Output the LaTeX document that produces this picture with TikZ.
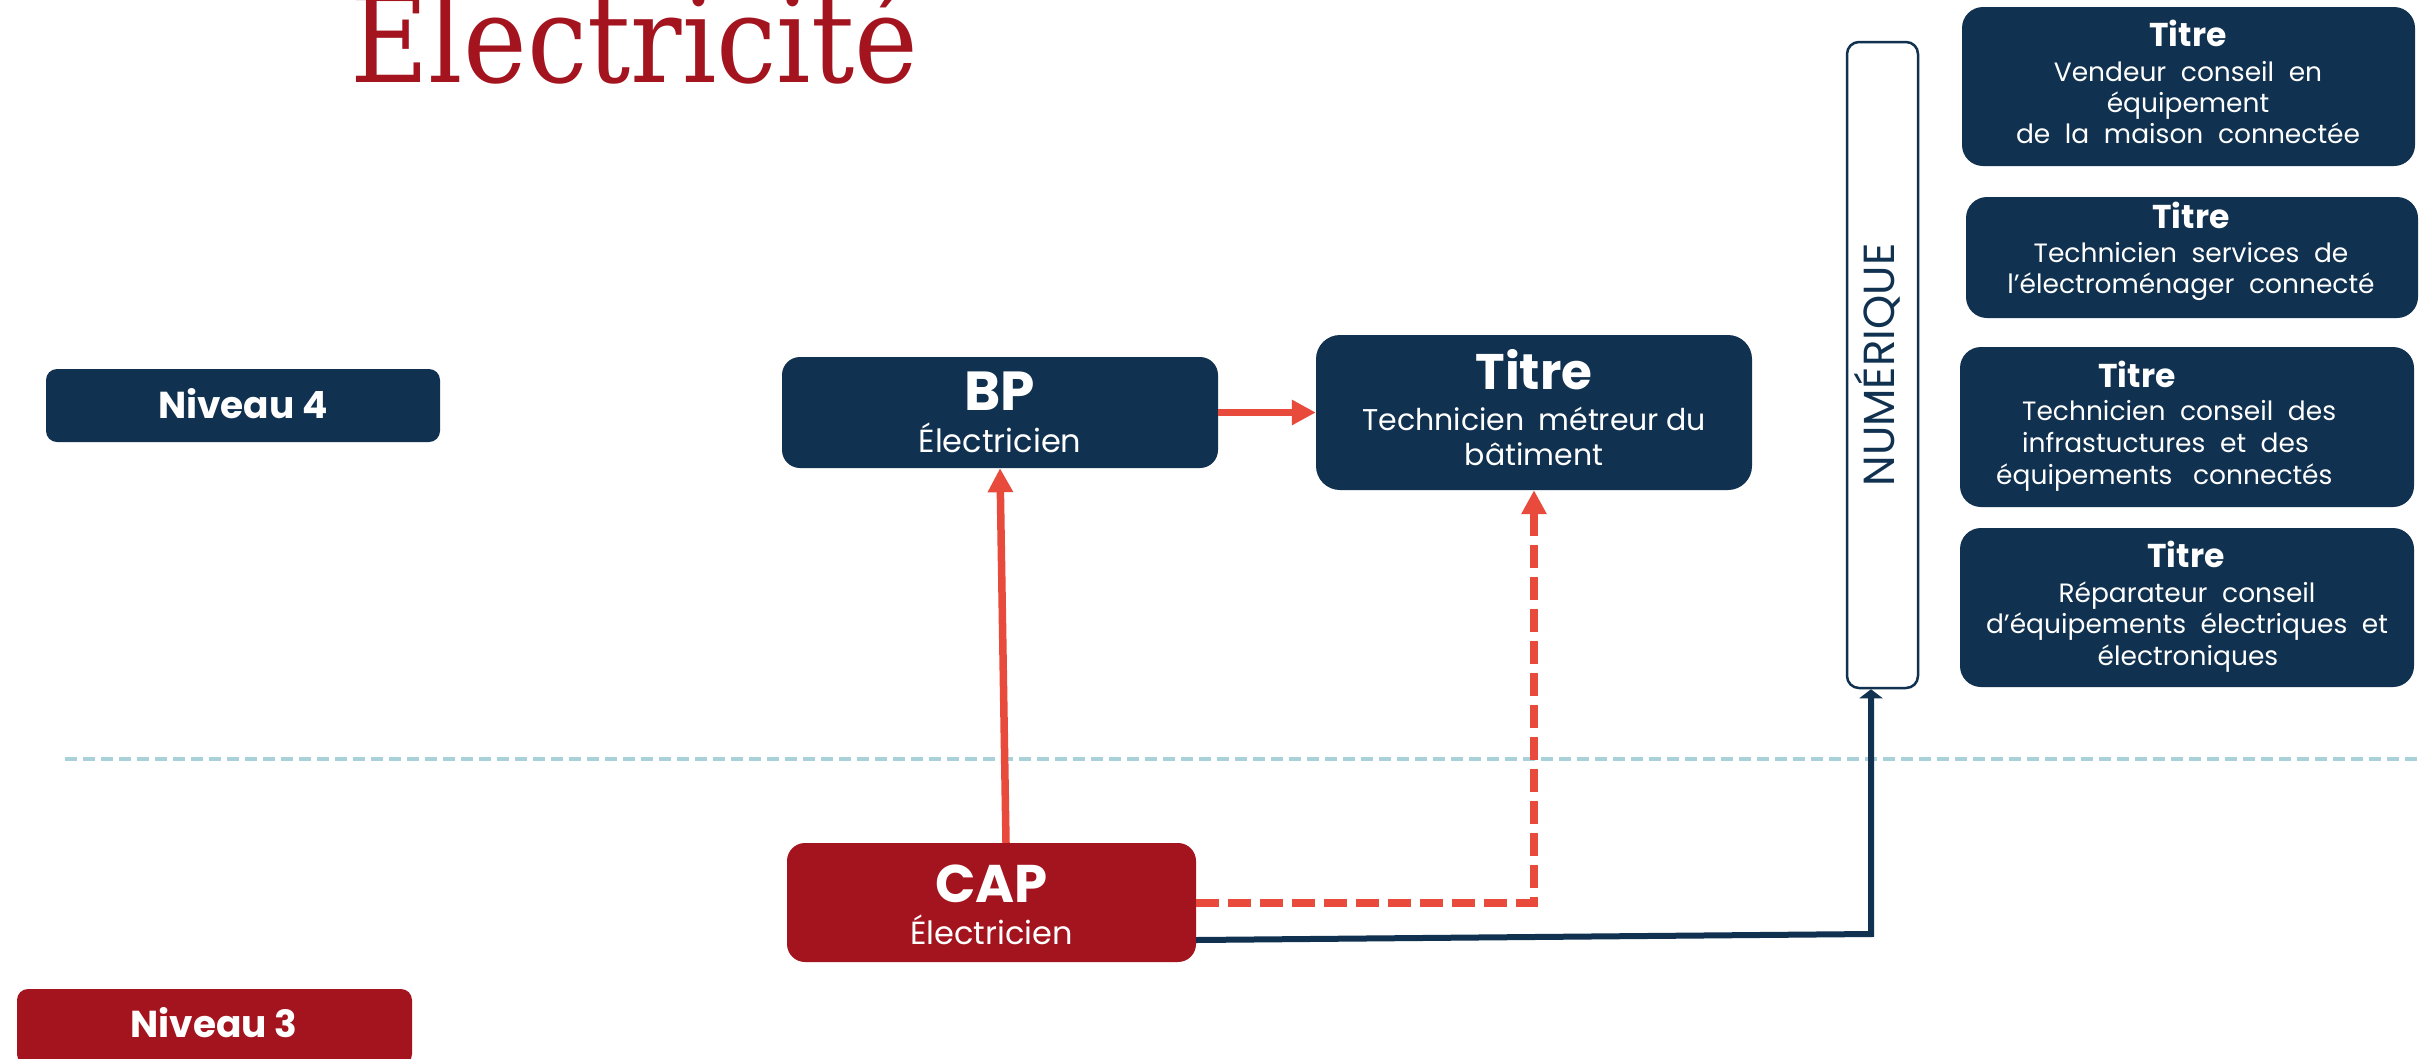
\documentclass[tikz,border=0pt]{standalone}
\usepackage{fontspec}
\setmainfont{Poppins}
\newfontfamily\titlefont[FakeStretch=0.89]{DejaVu Serif}
\usetikzlibrary{arrows.meta}
\definecolor{navy}{HTML}{10314F}
\definecolor{darkred}{HTML}{A3141F}
\definecolor{arrowred}{HTML}{E84B3C}
\definecolor{sepblue}{HTML}{A8D1D9}
\newcommand\widesp{\spaceskip=0.55em plus 0pt minus 0pt\relax}
\begin{document}
\begin{tikzpicture}[x=1pt,y=-1pt,
  box/.style={rectangle, inner sep=0pt, draw=none},
  navybox/.style={box, fill=navy},
  redbox/.style={box, fill=darkred},
  lbl/.style={anchor=base, text=white, inner sep=0pt},
  midr/.style={lbl, font=\fontsize{32}{38}\selectfont},
  smallb/.style={lbl, font=\fontsize{33}{40}\selectfont\bfseries},
  smallr/.style={lbl, font=\fontsize{26.5}{32}\selectfont\widesp},
  nivb/.style={lbl, font=\fontsize{37.5}{45}\selectfont\bfseries},
  redarrow/.style={draw=arrowred, line width=7.5pt, -{Triangle[length=24pt,width=24pt]}},
  reddash/.style={draw=arrowred, line width=8pt, dash pattern=on 23pt off 9pt, line join=miter, -{Triangle[length=24pt,width=24pt]}},
  navyarrow/.style={draw=navy, line width=6pt, line join=miter, -{Triangle[length=9pt,width=23pt]}},
  sepline/.style={draw=sepblue, line width=4pt, dash pattern=on 12pt off 6pt}
]
\fill[white] (0,0) rectangle (2423,1058);
\useasboundingbox (0,0) rectangle (2423,1058);

% title
\node[anchor=base west, inner sep=0pt, text=darkred, font=\titlefont\fontsize{121}{140}\selectfont] (title) at (350,82) {Électricité};

% separator
\draw[sepline] (65,759) -- (2423,759);

% level boxes
\node[navybox, rounded corners=11pt, minimum width=394pt, minimum height=73pt] (niv4) at (243,405.5) {};
\node[nivb] (niv4t) at (243,418) {Niveau 4};
\node[redbox, rounded corners=11pt, minimum width=395pt, minimum height=76pt] (niv3) at (214.5,1027) {};
\node[nivb] (niv3t) at (214,1037) {Niveau 3};

% BP
\node[navybox, rounded corners=18pt, minimum width=436pt, minimum height=111pt] (bp) at (1000,412.5) {};
\node[lbl, font=\fontsize{55}{66}\selectfont\bfseries] (bpt) at (1000,410) {BP};
\node[midr] (bps) at (1000,452) {Électricien};

% Titre metreur
\node[navybox, rounded corners=24pt, minimum width=436pt, minimum height=155pt] (titre) at (1534,412.5) {};
\node[lbl, font=\fontsize{50}{60}\selectfont\bfseries] (titret) at (1534,389) {Titre};
\node[lbl, font=\fontsize{30}{36}\selectfont] (titres1) at (1534,430) {Technicien\hspace{14pt}métreur\hspace{7pt}du};
\node[lbl, font=\fontsize{30}{36}\selectfont] (titres2) at (1534,465) {bâtiment};

% CAP
\node[redbox, rounded corners=18pt, minimum width=409pt, minimum height=119pt] (cap) at (991.5,902.5) {};
\node[lbl, font=\fontsize{53}{64}\selectfont\bfseries] (capt) at (991.5,902) {CAP};
\node[midr] (caps) at (991.5,944) {Électricien};

% NUMERIQUE
\node[box, fill=white, draw=navy, line width=2.5pt, rounded corners=12pt, minimum width=71pt, minimum height=646pt] (num) at (1882.5,365) {};
\node[rotate=90, inner sep=0pt, text=navy, font=\fontsize{43.5}{52}\selectfont] (numt) at (1877,365) {NUMÉRIQUE};

% right boxes
\node[navybox, rounded corners=21pt, minimum width=453pt, minimum height=159pt] (r1) at (2188.5,86.5) {};
\node[smallb] (r1t) at (2188,46) {Titre};
\node[smallr] (r1a) at (2188,81) {Vendeur conseil en};
\node[smallr] (r1b) at (2188,112) {équipement};
\node[smallr] (r1c) at (2188,143) {de la maison connectée};

\node[navybox, rounded corners=21pt, minimum width=452pt, minimum height=121pt] (r2) at (2192,257.5) {};
\node[smallb] (r2t) at (2191,228) {Titre};
\node[smallr] (r2a) at (2191,262) {Technicien services de};
\node[smallr] (r2b) at (2191,293) {l’électroménager connecté};

\node[navybox, rounded corners=21pt, minimum width=454pt, minimum height=160pt] (r3) at (2187,427) {};
\node[smallb] (r3t) at (2137,387) {Titre};
\node[smallr, anchor=base west] (r3a) at (2022,420) {Technicien conseil des};
\node[smallr, anchor=base west] (r3b) at (2022,452) {infrastuctures et des};
\node[smallr, anchor=base west] (r3c) at (1996,484) {équipements\hspace{6pt} connectés};

\node[navybox, rounded corners=21pt, minimum width=454pt, minimum height=159pt] (r4) at (2187,607.5) {};
\node[smallb] (r4t) at (2186,567) {Titre};
\node[smallr] (r4a) at (2187,602) {Réparateur conseil};
\node[smallr] (r4b) at (2187,633) {d’équipements électriques et};
\node[smallr] (r4c) at (2188,665) {électroniques};

% connectors
\draw[redarrow] ([xshift=14.5pt]cap.north) -- (bp.south);
\draw[redarrow] (bp.east) -- (titre.west);
\draw[reddash] (cap.east) -| (titre.south);
\coordinate (bend) at (1871,934);
\draw[navyarrow] ([yshift=-37.5pt]cap.east) -- (bend) -- (bend |- num.south);
\end{tikzpicture}
\end{document}
